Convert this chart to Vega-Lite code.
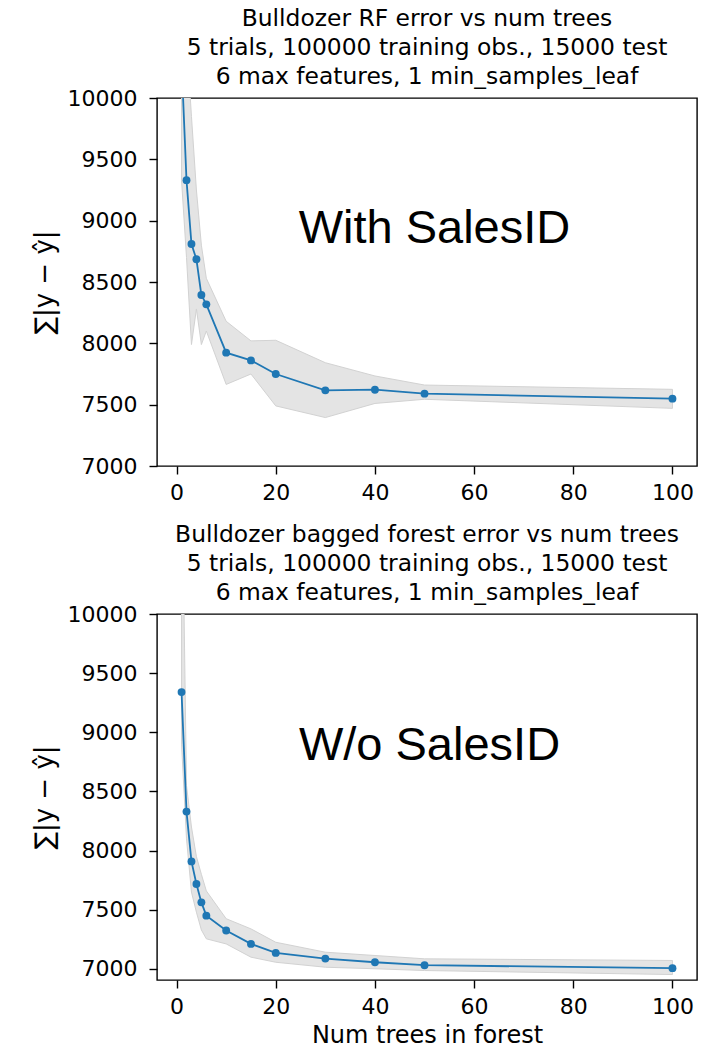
{
  "$schema": "https://vega.github.io/schema/vega-lite/v6.json",
  "padding": {"left": 30, "top": 5, "right": 10, "bottom": 2},
  "spacing": 17,
  "config": {
    "font": "DejaVu Sans",
    "view": {"stroke": "#000000", "strokeWidth": 1.4},
    "axis": {"grid": false, "domain": false, "tickColor": "#000000", "tickSize": 8, "tickWidth": 1.4, "labelColor": "#000000", "labelFont": "DejaVu Sans", "labelFontSize": 22, "titleFont": "DejaVu Sans", "titleFontSize": 24, "titleFontWeight": "normal", "titleColor": "#000000", "format": "d"},
    "axisX": {"labelPadding": 8, "titlePadding": 6},
    "axisY": {"labelPadding": 12, "titlePadding": 10, "titleFontSize": 26},
    "title": {"font": "DejaVu Sans", "fontSize": 23.4, "fontWeight": "normal", "color": "#000000", "lineHeight": 29, "offset": -2, "anchor": "middle"}
  },
  "datasets": {
    "rf": [
      {"trees": 1, "err": 10300, "lo": 9330, "hi": 11500},
      {"trees": 2, "err": 9330, "lo": 8700, "hi": 10500},
      {"trees": 3, "err": 8810, "lo": 7990, "hi": 9850},
      {"trees": 4, "err": 8685, "lo": 8280, "hi": 9250},
      {"trees": 5, "err": 8394, "lo": 7990, "hi": 8800},
      {"trees": 6, "err": 8318, "lo": 8100, "hi": 8530},
      {"trees": 10, "err": 7924, "lo": 7665, "hi": 8180},
      {"trees": 15, "err": 7861, "lo": 7750, "hi": 8020},
      {"trees": 20, "err": 7750, "lo": 7490, "hi": 8025},
      {"trees": 30, "err": 7617, "lo": 7395, "hi": 7842},
      {"trees": 40, "err": 7622, "lo": 7510, "hi": 7734},
      {"trees": 50, "err": 7590, "lo": 7544, "hi": 7660},
      {"trees": 100, "err": 7549, "lo": 7470, "hi": 7625}
    ],
    "bag": [
      {"trees": 1, "err": 9340, "lo": 8900, "hi": 11500},
      {"trees": 2, "err": 8330, "lo": 8100, "hi": 8550},
      {"trees": 3, "err": 7909, "lo": 7650, "hi": 8200},
      {"trees": 4, "err": 7718, "lo": 7480, "hi": 7950},
      {"trees": 5, "err": 7563, "lo": 7330, "hi": 7800},
      {"trees": 6, "err": 7451, "lo": 7255, "hi": 7660},
      {"trees": 10, "err": 7325, "lo": 7212, "hi": 7425},
      {"trees": 15, "err": 7212, "lo": 7100, "hi": 7339},
      {"trees": 20, "err": 7136, "lo": 7057, "hi": 7226},
      {"trees": 30, "err": 7088, "lo": 7015, "hi": 7142},
      {"trees": 40, "err": 7057, "lo": 7002, "hi": 7114},
      {"trees": 50, "err": 7032, "lo": 6987, "hi": 7086},
      {"trees": 100, "err": 7007, "lo": 6953, "hi": 7072}
    ],
    "labels": [
      {"panel": "rf", "label": "With SalesID", "trees": 52, "err": 8930},
      {"panel": "bag", "label": "W/o SalesID", "trees": 51, "err": 8885}
    ]
  },
  "vconcat": [
    {
      "width": 540,
      "height": 368,
      "title": {"text": ["Bulldozer RF error vs num trees", "5 trials, 100000 training obs., 15000 test", "6 max features, 1 min_samples_leaf"]},
      "layer": [
        {
          "data": {"name": "rf"},
          "mark": {"type": "area", "clip": true, "color": "#e4e4e4", "stroke": "#d2d2d2", "strokeWidth": 1},
          "encoding": {
            "x": {"field": "trees", "type": "quantitative", "title": null, "scale": {"domain": [-3.95, 104.95], "nice": false, "zero": false}, "axis": {"values": [0, 20, 40, 60, 80, 100]}},
            "y": {"field": "lo", "type": "quantitative", "title": "∑|y − ŷ|", "scale": {"domain": [7000, 10000], "nice": false, "zero": false}, "axis": {"values": [7000, 7500, 8000, 8500, 9000, 9500, 10000]}},
            "y2": {"field": "hi"}
          }
        },
        {
          "data": {"name": "rf"},
          "mark": {"type": "line", "clip": true, "color": "#1f77b4", "strokeWidth": 1.8},
          "encoding": {
            "x": {"field": "trees", "type": "quantitative", "title": null},
            "y": {"field": "err", "type": "quantitative", "title": "∑|y − ŷ|"}
          }
        },
        {
          "data": {"name": "rf"},
          "mark": {"type": "point", "filled": true, "clip": true, "color": "#1f77b4", "size": 62, "opacity": 1},
          "encoding": {
            "x": {"field": "trees", "type": "quantitative", "title": null},
            "y": {"field": "err", "type": "quantitative", "title": "∑|y − ŷ|"}
          }
        },
        {
          "data": {"name": "labels"},
          "transform": [{"filter": "datum.panel === 'rf'"}],
          "mark": {"type": "text", "font": "Liberation Sans", "fontSize": 47, "align": "center", "baseline": "middle", "color": "#000000"},
          "encoding": {
            "x": {"field": "trees", "type": "quantitative", "title": null},
            "y": {"field": "err", "type": "quantitative", "title": "∑|y − ŷ|"},
            "text": {"field": "label"}
          }
        }
      ]
    },
    {
      "width": 540,
      "height": 366,
      "title": {"text": ["Bulldozer bagged forest error vs num trees", "5 trials, 100000 training obs., 15000 test", "6 max features, 1 min_samples_leaf"]},
      "layer": [
        {
          "data": {"name": "bag"},
          "mark": {"type": "area", "clip": true, "color": "#e4e4e4", "stroke": "#d2d2d2", "strokeWidth": 1},
          "encoding": {
            "x": {"field": "trees", "type": "quantitative", "title": "Num trees in forest", "scale": {"domain": [-3.95, 104.95], "nice": false, "zero": false}, "axis": {"values": [0, 20, 40, 60, 80, 100]}},
            "y": {"field": "lo", "type": "quantitative", "title": "∑|y − ŷ|", "scale": {"domain": [6907, 10000], "nice": false, "zero": false}, "axis": {"values": [7000, 7500, 8000, 8500, 9000, 9500, 10000]}},
            "y2": {"field": "hi"}
          }
        },
        {
          "data": {"name": "bag"},
          "mark": {"type": "line", "clip": true, "color": "#1f77b4", "strokeWidth": 1.8},
          "encoding": {
            "x": {"field": "trees", "type": "quantitative", "title": "Num trees in forest"},
            "y": {"field": "err", "type": "quantitative", "title": "∑|y − ŷ|"}
          }
        },
        {
          "data": {"name": "bag"},
          "mark": {"type": "point", "filled": true, "clip": true, "color": "#1f77b4", "size": 62, "opacity": 1},
          "encoding": {
            "x": {"field": "trees", "type": "quantitative", "title": "Num trees in forest"},
            "y": {"field": "err", "type": "quantitative", "title": "∑|y − ŷ|"}
          }
        },
        {
          "data": {"name": "labels"},
          "transform": [{"filter": "datum.panel === 'bag'"}],
          "mark": {"type": "text", "font": "Liberation Sans", "fontSize": 47, "align": "center", "baseline": "middle", "color": "#000000"},
          "encoding": {
            "x": {"field": "trees", "type": "quantitative", "title": "Num trees in forest"},
            "y": {"field": "err", "type": "quantitative", "title": "∑|y − ŷ|"},
            "text": {"field": "label"}
          }
        }
      ]
    }
  ]
}
